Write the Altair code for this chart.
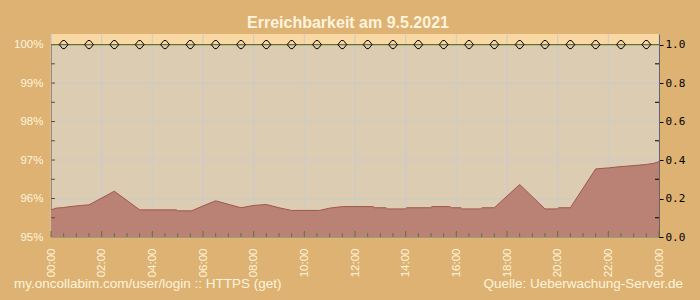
import altair as alt
import pandas as pd

# ---------------- data ----------------
title_text = "Erreichbarkeit am 9.5.2021"
footer_left = "my.oncollabim.com/user/login :: HTTPS (get)"
footer_right = "Quelle: Ueberwachung-Server.de"

# response time series (right axis units)
area_hours = [0.0, 0.2, 0.5, 0.75, 1.2, 1.5, 2.5, 3.5, 4.95, 5.0, 5.55, 6.1, 6.5, 7.0, 7.5,
              8.0, 8.5, 9.0, 9.5, 10.6, 11.0, 11.5, 12.72, 12.78, 13.22, 13.28, 13.98, 14.04,
              14.98, 15.04, 15.74, 15.8, 16.18, 16.24, 16.96, 17.02, 17.5, 18.5, 19.5, 19.98,
              20.04, 20.5, 21.5, 22.0, 22.5, 23.0, 23.5, 23.8, 24.0]
area_values = [0.141, 0.150, 0.153, 0.158, 0.164, 0.167, 0.238, 0.141, 0.141, 0.136, 0.136, 0.167,
               0.188, 0.170, 0.152, 0.164, 0.169, 0.152, 0.138, 0.138, 0.150, 0.158, 0.158, 0.152,
               0.152, 0.146, 0.146, 0.152, 0.152, 0.158, 0.158, 0.152, 0.152, 0.146, 0.146, 0.152,
               0.152, 0.273, 0.146, 0.146, 0.152, 0.152, 0.354, 0.359, 0.366, 0.371, 0.377, 0.383,
               0.392]

# availability (percent), hourly at xx:30
avail_hours = [0.5, 1.5, 2.5, 3.5, 4.5, 5.5, 6.5, 7.5, 8.5, 9.5, 10.5, 11.5,
               12.5, 13.5, 14.5, 15.5, 16.5, 17.5, 18.5, 19.5, 20.5, 21.5, 22.5, 23.5]
avail_pct = [100.0, 100.0, 100.0, 100.0, 100.0, 100.0, 100.0, 100.0, 100.0, 100.0, 100.0, 100.0,
             100.0, 100.0, 100.0, 100.0, 100.0, 100.0, 100.0, 100.0, 100.0, 100.0, 100.0, 100.0]

x_label_hours = [0, 2, 4, 6, 8, 10, 12, 14, 16, 18, 20, 22, 24]
x_minor_hours = [h / 2 for h in range(49) if h % 4 != 0]
y_major = [0.0, 0.2, 0.4, 0.6, 0.8, 1.0]
y_all = [0.1, 0.2, 0.3, 0.4, 0.5, 0.6, 0.7, 0.8, 0.9, 1.0]
y_minor = [0.1, 0.3, 0.5, 0.7, 0.9]

# ---------------- style ----------------
BG = "#DDB273"
PLOT = "#DCCCB2"
BAND = "#FFD9A0"
AREA = "#B98274"
AREA_LINE = "#A0564F"
GRID = "#CACAD0"
OLIVE = "#65732E"
BROWN = "#6B4A1E"
CREAM = "#FFF4DC"

W, H = 608, 203
YDOM = [0, 1.055]
xs = alt.Scale(domain=[0, 24], nice=False, zero=False)
ys = alt.Scale(domain=YDOM, nice=False, zero=False)

x_axis = alt.Axis(orient="bottom", values=x_label_hours,
                  labelExpr="(datum.value % 24 < 10 ? '0' : '') + (datum.value % 24) + ':00'",
                  labelAngle=270, labelAlign="right", labelBaseline="middle", labelPadding=11,
                  labelColor=CREAM, labelFont="Liberation Sans", labelFontSize=11.5,
                  ticks=False, domainColor=OLIVE, grid=False,
                  title=None, labelOverlap=False)

left_axis = alt.Axis(orient="left", values=y_major,
                     labelExpr="round(95 + datum.value * 5) + '%'",
                     labelColor=CREAM, labelFont="Liberation Sans", labelFontSize=11.5,
                     domainColor=BROWN, ticks=False, labelPadding=8,
                     grid=False, title=None)

right_axis = alt.Axis(orient="right", values=y_major, format=".1f",
                      labelFont="DejaVu Sans Mono", labelFontSize=11, labelColor="black",
                      domainColor="black", tickColor="black", tickSize=4, labelPadding=2,
                      grid=False, title=None)

band = alt.Chart(pd.DataFrame({"a": [0]})).mark_rect(color=BAND, opacity=0.85).encode(
    x=alt.XDatum(0, scale=xs, axis=None), x2=alt.X2Datum(24),
    y=alt.YDatum(1.0, scale=ys, axis=None), y2=alt.Y2Datum(YDOM[1]))

vgrid = alt.Chart(pd.DataFrame({"t": x_label_hours})).mark_rule(color=GRID, strokeWidth=1).encode(
    x=alt.X("t:Q", scale=xs, axis=None))
hgrid = alt.Chart(pd.DataFrame({"t": y_major})).mark_rule(color=GRID, strokeWidth=1).encode(
    y=alt.Y("t:Q", scale=ys, axis=None))

area = alt.Chart(pd.DataFrame({"hour": area_hours, "value": area_values})).mark_area(
    color=AREA, opacity=1, interpolate="linear",
    line={"color": AREA_LINE, "strokeWidth": 1}).encode(
    x=alt.X("hour:Q", scale=xs, axis=x_axis),
    y=alt.Y("value:Q", scale=ys, axis=right_axis))

xt_min = alt.Chart(pd.DataFrame({"t": x_minor_hours})).mark_rule(color=OLIVE).encode(
    x=alt.X("t:Q", scale=xs, axis=None), y=alt.value(H), y2=alt.value(H - 4))
xt_maj = alt.Chart(pd.DataFrame({"t": x_label_hours})).mark_rule(color=OLIVE).encode(
    x=alt.X("t:Q", scale=xs, axis=None), y=alt.value(H), y2=alt.value(H - 6))
lt = alt.Chart(pd.DataFrame({"t": y_all})).mark_rule(color=BROWN).encode(
    y=alt.Y("t:Q", scale=ys, axis=None), x=alt.value(0), x2=alt.value(4))
rt = alt.Chart(pd.DataFrame({"t": y_minor})).mark_rule(color="black").encode(
    y=alt.Y("t:Q", scale=ys, axis=None), x=alt.value(W - 4), x2=alt.value(W))

line100 = alt.Chart(pd.DataFrame({"a": [0]})).mark_rule(color=OLIVE, strokeWidth=1.2).encode(
    y=alt.YDatum(1.0, scale=ys, axis=None))

DIAM = "M-1,0L-0.25,-0.9L0.25,-0.9L1,0L0.25,0.9L-0.25,0.9Z"
points = alt.Chart(pd.DataFrame({"hour": avail_hours, "pct": avail_pct})).transform_calculate(
    v="(datum.pct - 95) / 5").mark_point(
    shape=DIAM, filled=False, color="black", size=80, strokeWidth=1, opacity=1).encode(
    x=alt.X("hour:Q", scale=xs, axis=None),
    y=alt.Y("v:Q", scale=ys, axis=left_axis))

def label(text, align, x, y, size, weight="normal"):
    return alt.Chart(pd.DataFrame({"t": [text]})).mark_text(
        align=align, baseline="alphabetic", color=CREAM, font="Liberation Sans",
        fontSize=size, fontWeight=weight).encode(
        text="t:N", x=alt.value(x), y=alt.value(y))

ttl = label(title_text, "center", 297, -6, 16, "bold")
fl = label(footer_left, "left", -37, 254, 13.5)
fr = label(footer_right, "right", 632, 254, 13.5)

chart = alt.layer(band, vgrid, hgrid, area, xt_min, xt_maj, lt, rt, line100, points,
                  ttl, fl, fr).resolve_axis(
    y="independent", x="independent").properties(
    width=W, height=H,
    autosize=alt.AutoSizeParams(type="none"),
    padding={"left": 51, "top": 34, "right": 41, "bottom": 63},
    background=BG,
).configure_view(fill=PLOT, stroke=None)

chart.save("out.html", embed_options={"renderer": "svg", "actions": False})
